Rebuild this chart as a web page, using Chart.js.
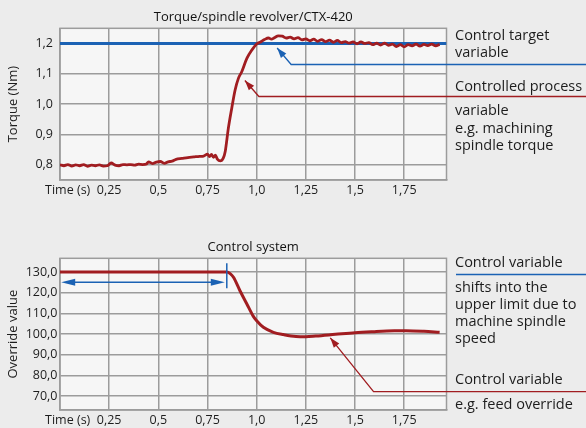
<!DOCTYPE html>
<html>
<head>
<meta charset="utf-8">
<script src="https://cdn.jsdelivr.net/npm/chart.js@4/dist/chart.umd.min.js"></script>
<style>
  body { margin: 0; background: #ececec; }
  canvas { display: block; }
</style>
</head>
<body>
<canvas id="torqueChart" width="586" height="215"></canvas>
<canvas id="overrideChart" width="586" height="213"></canvas>
<script>
// torque measured on the spindle revolver (s / Nm)
const torqueTime = [
  0.00, 0.02, 0.04, 0.06, 0.08, 0.10, 0.12, 0.14, 0.16, 0.18, 0.20, 0.22, 0.24,
  0.26, 0.28, 0.30, 0.32, 0.34, 0.36, 0.38, 0.40, 0.42, 0.44, 0.45, 0.47, 0.49,
  0.51, 0.53, 0.55, 0.57, 0.59, 0.62, 0.65, 0.68, 0.71, 0.73, 0.75, 0.76, 0.77,
  0.78, 0.79, 0.80, 0.815, 0.83, 0.84, 0.856, 0.873, 0.89, 0.907, 0.924, 0.95,
  0.975, 1.00, 1.02, 1.04, 1.06, 1.075, 1.09, 1.11, 1.13, 1.15, 1.17, 1.19,
  1.21, 1.23, 1.25, 1.27, 1.29, 1.31, 1.33, 1.35, 1.37, 1.39, 1.41, 1.43, 1.45,
  1.47, 1.49, 1.51, 1.53, 1.55, 1.57, 1.59, 1.61, 1.63, 1.65, 1.67, 1.69, 1.71,
  1.73, 1.75, 1.77, 1.79, 1.81, 1.83, 1.85, 1.87, 1.89, 1.91, 1.93
];
const torqueValue = [
  0.800, 0.797, 0.801, 0.796, 0.800, 0.797, 0.801, 0.795, 0.799, 0.797, 0.800, 0.796, 0.797,
  0.806, 0.799, 0.797, 0.801, 0.800, 0.801, 0.799, 0.802, 0.801, 0.803, 0.810, 0.804, 0.809,
  0.811, 0.805, 0.810, 0.812, 0.818, 0.821, 0.824, 0.826, 0.828, 0.829, 0.835, 0.827, 0.834,
  0.825, 0.832, 0.819, 0.813, 0.822, 0.844, 0.921, 0.986, 1.046, 1.085, 1.107, 1.151,
  1.178, 1.198, 1.205, 1.213, 1.218, 1.214, 1.219, 1.225, 1.224, 1.218, 1.221, 1.215,
  1.219, 1.212, 1.215, 1.209, 1.214, 1.207, 1.213, 1.206, 1.211, 1.204, 1.210, 1.203, 1.206,
  1.201, 1.205, 1.199, 1.205, 1.200, 1.203, 1.196, 1.201, 1.195, 1.201, 1.194, 1.198, 1.190,
  1.196, 1.189, 1.196, 1.192, 1.198, 1.191, 1.197, 1.193, 1.198, 1.192, 1.197
];
const targetTorque = 1.2;

// feed override from the control system (s / %)
const overrideTime = [0.00, 0.848, 0.865, 0.882, 0.915, 0.95, 0.983, 1.00, 1.034, 1.085,
  1.136, 1.20, 1.25, 1.30, 1.40, 1.50, 1.60, 1.70, 1.76, 1.85, 1.93];
const overrideValue = [130, 130, 129.2, 127.4, 120.9, 114.5, 108.5, 106.4, 103.2, 100.8,
  99.7, 98.8, 98.7, 99.0, 99.8, 100.6, 101.1, 101.5, 101.6, 101.3, 100.8];

const timeTicks = [0.25, 0.5, 0.75, 1.0, 1.25, 1.5, 1.75];
const timeTickLabels = ["0,25", "0,5", "0,75", "1,0", "1,25", "1,5", "1,75"];
const torqueTicks = [0.8, 0.9, 1.0, 1.1, 1.2];
const torqueTickLabels = ["0,8", "0,9", "1,0", "1,1", "1,2"];
const overrideTicks = [70, 80, 90, 100, 110, 120, 130];
const overrideTickLabels = ["70,0", "80,0", "90,0", "100,0", "110,0", "120,0", "130,0"];

const timeMax = 1.965;
const timeLabelAt = 0.039; // where "Time (s)" sits on the axis
const red = "#a11d21";
const blue = "#1b62b4";
const grid = "#9c9c9c";
const ink = "#1d1d1d";
const font = "'Open Sans', 'Noto Sans', sans-serif";

// plot background + frame
const frame = {
  id: "frame",
  beforeDraw(chart) {
    const { ctx, chartArea: a } = chart;
    ctx.save();
    ctx.fillStyle = "#f6f6f6";
    ctx.fillRect(a.left, a.top, a.width, a.height);
    ctx.restore();
  },
  beforeDatasetsDraw(chart) {
    const { ctx, chartArea: a } = chart;
    ctx.save();
    ctx.strokeStyle = grid;
    ctx.lineWidth = 1.5;
    ctx.strokeRect(a.left, a.top, a.width, a.height);
    ctx.restore();
  }
};

function arrowHead(ctx, fromX, fromY, tipX, tipY, len, half) {
  const a = Math.atan2(tipY - fromY, tipX - fromX);
  const bx = tipX - len * Math.cos(a), by = tipY - len * Math.sin(a);
  ctx.beginPath();
  ctx.moveTo(tipX, tipY);
  ctx.lineTo(bx + half * Math.sin(a), by - half * Math.cos(a));
  ctx.lineTo(bx - half * Math.sin(a), by + half * Math.cos(a));
  ctx.closePath();
  ctx.fill();
}

function pointer(ctx, color, tipX, tipY, elbowX, elbowY, endX) {
  ctx.strokeStyle = color;
  ctx.fillStyle = color;
  ctx.lineWidth = 1.3;
  ctx.beginPath();
  ctx.moveTo(tipX, tipY);
  ctx.lineTo(elbowX, elbowY);
  ctx.lineTo(endX, elbowY);
  ctx.stroke();
  arrowHead(ctx, elbowX, elbowY, tipX, tipY, 10, 3.5);
}

function sideText(ctx, lines) {
  ctx.fillStyle = ink;
  ctx.font = "14.5px " + font;
  ctx.textBaseline = "alphabetic";
  lines.forEach(([text, y]) => ctx.fillText(text, 455, y));
}

function timeAxis() {
  return {
    type: "linear",
    min: 0,
    max: timeMax,
    afterBuildTicks: (s) => {
      s.ticks = [{ value: timeLabelAt }].concat(timeTicks.map((v) => ({ value: v })));
    },
    afterFit: (s) => { s.height = 25; },
    ticks: {
      autoSkip: false,
      maxRotation: 0,
      padding: 3,
      color: ink,
      font: { family: font, size: 12.5 },
      callback: (v, i) => (i === 0 ? "Time (s)" : timeTickLabels[i - 1])
    },
    grid: {
      drawTicks: false,
      lineWidth: 1.5,
      color: (c) => (c.tick && c.tick.value === timeLabelAt ? "rgba(0,0,0,0)" : grid)
    },
    border: { color: grid, width: 1.5 }
  };
}

function valueAxis(min, max, ticks, labels, title, pad) {
  return {
    min: min,
    max: max,
    afterBuildTicks: (s) => { s.ticks = ticks.map((v) => ({ value: v })); },
    afterFit: (s) => { s.width = 60; },
    ticks: {
      padding: pad,
      color: ink,
      font: { family: font, size: 12.5 },
      callback: (v, i) => labels[i]
    },
    grid: { drawTicks: false, lineWidth: 1.5, color: grid },
    border: { color: grid, width: 1.5 },
    title: { display: true, text: title, color: ink, padding: 5, font: { family: font, size: 13 } }
  };
}

const torqueNotes = {
  id: "torqueNotes",
  afterDraw(chart) {
    const { ctx, scales: { x, y } } = chart;
    ctx.save();
    const bx = x.getPixelForValue(1.104), by = y.getPixelForValue(1.185);
    pointer(ctx, blue, bx, by, bx + 14, by + 16.5, chart.width);
    const rx = x.getPixelForValue(0.94), ry = y.getPixelForValue(1.078);
    pointer(ctx, red, rx, ry, rx + 14, ry + 16, chart.width);
    sideText(ctx, [
      ["Control target", 39.5], ["variable", 57],
      ["Controlled process", 90.5], ["variable", 114.5],
      ["e.g. machining", 132.5], ["spindle torque", 150]
    ]);
    ctx.restore();
  }
};

const overrideNotes = {
  id: "overrideNotes",
  afterDraw(chart) {
    const { ctx, scales: { x, y } } = chart;
    ctx.save();
    // limit marker and double arrow
    const mx = x.getPixelForValue(0.848);
    ctx.strokeStyle = blue;
    ctx.fillStyle = blue;
    ctx.lineWidth = 1.5;
    ctx.beginPath();
    ctx.moveTo(mx, y.getPixelForValue(134.2));
    ctx.lineTo(mx, y.getPixelForValue(122.1));
    ctx.stroke();
    const ay = y.getPixelForValue(125);
    const ax = x.getPixelForValue(0.006);
    ctx.lineWidth = 1.3;
    ctx.beginPath();
    ctx.moveTo(ax + 8, ay);
    ctx.lineTo(mx - 8, ay);
    ctx.stroke();
    arrowHead(ctx, mx, ay, ax, ay, 14, 3.5);
    arrowHead(ctx, ax, ay, mx - 2, ay, 14, 3.5);
    // separator under first caption
    ctx.beginPath();
    ctx.moveTo(456, 59.5);
    ctx.lineTo(chart.width, 59.5);
    ctx.stroke();
    const rx = x.getPixelForValue(1.374), ry = y.getPixelForValue(98.1);
    pointer(ctx, red, rx, ry, rx + 43.3, ry + 53.7, chart.width);
    sideText(ctx, [
      ["Control variable", 51.5], ["shifts into the", 77],
      ["upper limit due to", 94], ["machine spindle", 111],
      ["speed", 127.5], ["Control variable", 168.5],
      ["e.g. feed override", 193.5]
    ]);
    ctx.restore();
  }
};

new Chart(document.getElementById("torqueChart"), {
  type: "line",
  data: {
    datasets: [
      {
        data: torqueTime.map((t, i) => ({ x: t, y: torqueValue[i] })),
        borderColor: red,
        borderWidth: 2.8,
        pointRadius: 0,
        cubicInterpolationMode: "monotone"
      },
      {
        data: [{ x: 0, y: targetTorque }, { x: timeMax, y: targetTorque }],
        borderColor: blue,
        borderWidth: 3,
        pointRadius: 0
      }
    ]
  },
  options: {
    responsive: false,
    animation: false,
    layout: { padding: { left: 0, right: 139.5, top: 6, bottom: 10 } },
    plugins: {
      legend: { display: false },
      tooltip: { enabled: false },
      title: {
        display: true,
        fullSize: false,
        text: "Torque/spindle revolver/CTX-420",
        color: "#111",
        font: { family: font, size: 13, weight: "normal" },
        padding: { top: 3, bottom: 3.7 }
      }
    },
    scales: {
      x: timeAxis(),
      y: valueAxis(0.75, 1.25, torqueTicks, torqueTickLabels, "Torque (Nm)", 7)
    }
  },
  plugins: [frame, torqueNotes]
});

new Chart(document.getElementById("overrideChart"), {
  type: "line",
  data: {
    datasets: [
      {
        data: overrideTime.map((t, i) => ({ x: t, y: overrideValue[i] })),
        borderColor: red,
        borderWidth: 3,
        pointRadius: 0,
        cubicInterpolationMode: "monotone"
      }
    ]
  },
  options: {
    responsive: false,
    animation: false,
    layout: { padding: { left: 0, right: 139.5, top: 20, bottom: 0 } },
    plugins: {
      legend: { display: false },
      tooltip: { enabled: false },
      title: {
        display: true,
        fullSize: false,
        text: "Control system",
        color: "#111",
        font: { family: font, size: 13, weight: "normal" },
        padding: { top: 4, bottom: 3.7 }
      }
    },
    scales: {
      x: Object.assign(timeAxis(), { afterFit: (s) => { s.height = 18; } }),
      y: valueAxis(63.2, 136.6, overrideTicks, overrideTickLabels, "Override value", 2.5)
    }
  },
  plugins: [frame, overrideNotes]
});
</script>
</body>
</html>
